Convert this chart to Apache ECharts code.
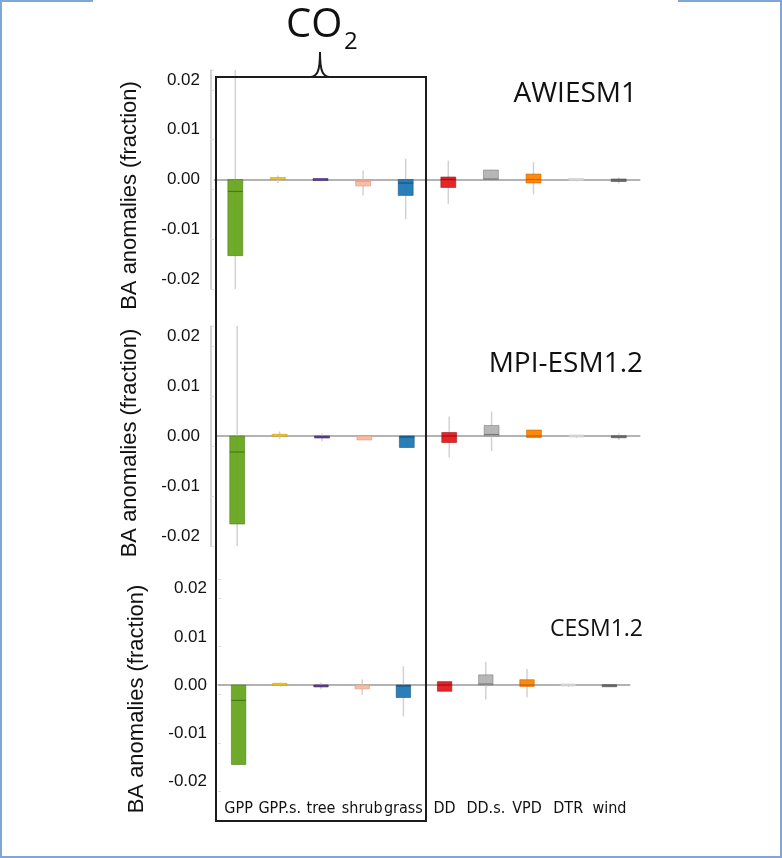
<!DOCTYPE html>
<html>
<head>
<meta charset="utf-8">
<script src="https://cdn.jsdelivr.net/npm/echarts@6/dist/echarts.min.js"></script>
<style>
html,body{margin:0;padding:0;background:#fff;}
#chart{width:782px;height:858px;}
</style>
</head>
<body>
<div id="chart"></div>
<script>
// ---- data ----
const categories = ['GPP', 'GPP.s.', 'tree', 'shrub', 'grass', 'DD', 'DD.s.', 'VPD', 'DTR', 'wind'];
const yTicks = [-0.02, -0.01, 0.00, 0.01, 0.02];
const panelTitles = ['AWIESM1', 'MPI-ESM1.2', 'CESM1.2'];

// AWIESM1
const awiLow  = [-0.022, -0.0007, -0.0002, -0.0032, -0.0080, -0.0049, 0.0000, -0.0030, 0, -0.0008];
const awiQ1   = [-0.0153, 0.0000, -0.0002, -0.0013, -0.0032, -0.0016, 0.0000, -0.0007, 0, -0.0004];
const awiMed  = [-0.0024, 0.0002, 0.0000, -0.0003, -0.0007, 0.0000, 0.0001, 0.0000, 0, -0.0002];
const awiQ3   = [0.0000, 0.0004, 0.0002, 0.0000, 0.0000, 0.0005, 0.0019, 0.0011, 0, 0.0001];
const awiHigh = [0.022, 0.0008, 0.0002, 0.0018, 0.0042, 0.0038, 0.0019, 0.0035, 0, 0.0004];

// MPI-ESM1.2
const mpiLow  = [-0.022, -0.0006, -0.0011, -0.0008, -0.0023, -0.0043, -0.0030, -0.0003, 0, -0.0008];
const mpiQ1   = [-0.0176, 0.0000, -0.0004, -0.0008, -0.0023, -0.0013, 0.0000, -0.0003, 0, -0.0003];
const mpiMed  = [-0.0032, 0.0001, -0.0002, -0.0002, -0.0002, 0.0000, 0.0003, 0.0000, 0, -0.0001];
const mpiQ3   = [0.0000, 0.0003, 0.0000, 0.0000, 0.0000, 0.0007, 0.0021, 0.0012, 0, 0.0000];
const mpiHigh = [0.022, 0.0009, 0.0005, 0.0000, 0.0000, 0.0039, 0.0049, 0.0012, 0, 0.0005];

// CESM1.2
const cesLow  = [-0.0165, 0.0000, -0.0009, -0.0021, -0.0065, -0.0013, -0.0030, -0.0026, 0, -0.0003];
const cesQ1   = [-0.0165, 0.0000, -0.0004, -0.0008, -0.0026, -0.0013, 0.0000, -0.0003, 0, -0.0003];
const cesMed  = [-0.0032, 0.0002, -0.0002, -0.0002, -0.0002, 0.0000, 0.0002, 0.0000, 0, -0.0001];
const cesQ3   = [0.0000, 0.0003, 0.0000, 0.0000, 0.0000, 0.0007, 0.0021, 0.0011, 0, 0.0000];
const cesHigh = [0.0000, 0.0003, 0.0005, 0.0012, 0.0039, 0.0007, 0.0048, 0.0033, 0, 0.0000];

// ---- styles ----
const boxColors   = ['#68a51f', '#f2c318', '#5b3a8e', '#f9b8a0', '#1f78b4', '#e31a1c', '#b3b3b3', '#ff8200', '#d8d8d8', '#666666'];
const medColors   = ['#4a7a16', '#c99c00', '#3e2466', '#e0957c', '#16527c', '#9e1214', '#7a7a7a', '#c86300', '#c8c8c8', '#444444'];

const panels = [
  {low: awiLow, q1: awiQ1, med: awiMed, q3: awiQ3, high: awiHigh},
  {low: mpiLow, q1: mpiQ1, med: mpiMed, q3: mpiQ3, high: mpiHigh},
  {low: cesLow, q1: cesQ1, med: cesMed, q3: cesQ3, high: cesHigh}
];

const grids = [
  {left: 214, top: 70, width: 426, height: 219},
  {left: 216, top: 326, width: 424, height: 220},
  {left: 218, top: 579, width: 412, height: 212}
];
const yOffsets = [3, 5, 0];
const namePads = [[0, 32, 0, 0], [0, 14, 0, 0], [0, 28, 0, 0]];

function renderBox(params, api) {
  const x = api.value(0);
  const lo = api.value(1), q1 = api.value(2), med = api.value(3), q3 = api.value(4), hi = api.value(5);
  const pLo = api.coord([x, lo]);
  const pHi = api.coord([x, hi]);
  const pQ1 = api.coord([x, q1]);
  const pQ3 = api.coord([x, q3]);
  const pMed = api.coord([x, med]);
  const w = api.size([1, 0])[0] * 0.35;
  const cx = pQ1[0];
  let top = Math.min(pQ1[1], pQ3[1]);
  let h = Math.abs(pQ1[1] - pQ3[1]);
  if (h < 2) { top = top - (2 - h) / 2; h = 2; }
  const idx = params.dataIndex;
  const children = [];
  if (Math.abs(pHi[1] - pLo[1]) > 0.5) {
    children.push({
      type: 'line',
      shape: {x1: cx, y1: pHi[1], x2: cx, y2: pLo[1]},
      style: {stroke: '#d2d2d2', lineWidth: 1.5}
    });
  }
  children.push({
    type: 'rect',
    shape: {x: cx - w / 2, y: top, width: w, height: h},
    style: {fill: boxColors[idx], stroke: medColors[idx], lineWidth: 0.6, opacity: 0.95}
  });
  if (h > 4) {
    children.push({
      type: 'line',
      shape: {x1: cx - w / 2, y1: pMed[1], x2: cx + w / 2, y2: pMed[1]},
      style: {stroke: medColors[idx], lineWidth: 1.2}
    });
  }
  return {type: 'group', children: children};
}

const option = {
  animation: false,
  backgroundColor: '#ffffff',
  textStyle: {fontFamily: 'Liberation Sans, Arial, sans-serif'},
  grid: grids.map(g => Object.assign({containLabel: false}, g)),
  xAxis: grids.map((g, i) => ({
    type: 'category',
    gridIndex: i,
    data: categories,
    axisLine: {show: true, lineStyle: {color: '#c4c4c4', width: 1.5}},
    axisTick: {show: true, alignWithLabel: true, length: 2, lineStyle: {color: '#dddddd'}},
    axisLabel: {
      show: i === 2,
      interval: 0,
      margin: 10,
      fontSize: 16,
      color: '#111',
      fontFamily: 'Liberation Sans Narrow, DejaVu Sans Condensed, Liberation Sans, sans-serif'
    },
    splitLine: {show: false}
  })),
  yAxis: grids.map((g, i) => ({
    type: 'value',
    gridIndex: i,
    min: -0.022,
    max: 0.022,
    interval: 0.01,
    offset: yOffsets[i],
    name: 'BA anomalies (fraction)',
    nameLocation: 'middle',
    nameRotate: 90,
    nameGap: 70,
    nameTextStyle: {fontSize: 22, color: '#111', fontFamily: 'Liberation Sans, Arial, sans-serif', padding: namePads[i]},
    axisLine: {show: i !== 2, lineStyle: {color: '#c4c4c4', width: 1.5}},
    axisTick: {show: true, inside: true, length: 3, lineStyle: {color: '#dddddd'}},
    axisLabel: {
      margin: 11,
      fontSize: 17,
      color: '#111',
      customValues: yTicks,
      formatter: v => v.toFixed(2)
    },
    splitLine: {show: false}
  })),
  graphic: [
    // frame lines
    {type: 'line', shape: {x1: 0, y1: 1, x2: 93, y2: 1}, style: {stroke: '#7ea6d6', lineWidth: 2}},
    {type: 'line', shape: {x1: 678, y1: 1, x2: 782, y2: 1}, style: {stroke: '#7ea6d6', lineWidth: 2}},
    {type: 'line', shape: {x1: 1, y1: 0, x2: 1, y2: 858}, style: {stroke: '#7ea6d6', lineWidth: 2}},
    {type: 'line', shape: {x1: 781, y1: 0, x2: 781, y2: 858}, style: {stroke: '#7ea6d6', lineWidth: 2}},
    {type: 'line', shape: {x1: 0, y1: 857, x2: 782, y2: 857}, style: {stroke: '#7ea6d6', lineWidth: 2}},
    // CO2 bracket box
    {type: 'rect', shape: {x: 216, y: 77, width: 210, height: 744}, style: {fill: 'none', stroke: '#1c1c1c', lineWidth: 2}, z: 10},
    {type: 'bezierCurve', shape: {x1: 311, y1: 77, cpx1: 317, cpy1: 76, cpx2: 320, cpy2: 72, x2: 320, y2: 52}, style: {fill: 'none', stroke: '#1c1c1c', lineWidth: 2}, z: 10},
    {type: 'bezierCurve', shape: {x1: 329, y1: 77, cpx1: 323, cpy1: 76, cpx2: 320, cpy2: 72, x2: 320, y2: 52}, style: {fill: 'none', stroke: '#1c1c1c', lineWidth: 2}, z: 10},
    {type: 'text', left: 286, top: 6, style: {text: 'CO', font: '40px "Open Sans", sans-serif', fill: '#111'}, z: 10},
    {type: 'text', left: 344, top: 30, style: {text: '2', font: '24px "Open Sans", sans-serif', fill: '#111'}, z: 10},
    // panel titles
    {type: 'text', right: 145, top: 80, style: {text: panelTitles[0], font: '28px "Open Sans", sans-serif', fill: '#111'}},
    {type: 'text', right: 139, top: 350, style: {text: panelTitles[1], font: '28px "Open Sans", sans-serif', fill: '#111'}},
    {type: 'text', right: 139, top: 618, style: {text: panelTitles[2], font: '23px "Open Sans", sans-serif', fill: '#111'}}
  ],
  series: panels.map((p, i) => ({
    type: 'custom',
    xAxisIndex: i,
    yAxisIndex: i,
    clip: true,
    renderItem: renderBox,
    encode: {x: 0, y: [1, 2, 3, 4, 5]},
    data: categories.map((c, k) => [k, p.low[k], p.q1[k], p.med[k], p.q3[k], p.high[k]]),
    z: 3,
    markLine: {
      silent: true,
      symbol: 'none',
      z: 1,
      label: {show: false},
      lineStyle: {color: '#a8a8a8', type: 'solid', width: 1.5},
      data: [{yAxis: 0}]
    }
  }))
};

const chart = echarts.init(document.getElementById('chart'), null, {renderer: 'canvas'});
chart.setOption(option);
</script>
</body>
</html>
